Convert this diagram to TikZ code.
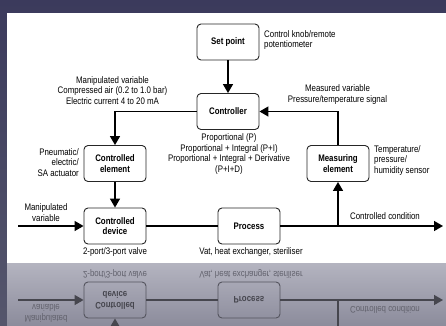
\documentclass[tikz,border=0pt]{standalone}
\usepackage{fontspec}
\setmainfont[FakeStretch=0.83]{Liberation Sans}
\usetikzlibrary{arrows.meta}
\definecolor{bgtop}{HTML}{3B3A5C}
\definecolor{bgbot}{HTML}{55566C}
\definecolor{refltop}{HTML}{B4B4C0}
\definecolor{reflbot}{HTML}{8C8C9C}
\colorlet{dline}{black}
\colorlet{dbox}{black!85}
\colorlet{dtext}{black}
% lower part (drawn in the panel and again as a mirrored reflection)
\newcommand\lowerpart[1]{%
  \node[box] (#1dev) at (115,226) {Controlled\\device};
  \node[box] (#1proc) at (249,226) {Process};
  \coordinate (#1in) at (18,226);
  \coordinate (#1out) at (443,226);
  \coordinate (#1tap) at (338,226);
  \draw[arr] (#1in) -- (#1dev.west);
  \draw[flow] (#1dev.east) -- (#1proc.west);
  \draw[arr] (#1proc.east) -- (#1out);
  \node[lbl] (#1miv) at (46,212.5) {Manipulated\\variable};
  \node[lbl] (#1cc) at (385,216) {Controlled condition};
  \node[lbl] (#1valve) at (115,252) {2-port/3-port valve};
  \node[lbl] (#1vat) at (251,252) {Vat, heat exchanger, steriliser};
}
\begin{document}
\begin{tikzpicture}[x=1pt,y=-1pt,
  box/.style={draw=dbox, line width=0.9pt, rounded corners=4pt,
    minimum width=62pt, minimum height=36pt, inner sep=0pt, align=center,
    text=dline, font=\fontsize{9.5}{10.8}\selectfont\bfseries},
  lbl/.style={inner sep=0pt, align=center, text=dtext,
    font=\fontsize{9.5}{10.8}\selectfont},
  flow/.style={draw=dline, line width=1.5pt},
  arr/.style={flow, -{Triangle[length=9pt,width=10pt]}},
]
\useasboundingbox (0,0) rectangle (446,325);
\shade[top color=bgtop, bottom color=bgbot] (0,0) rectangle (446,325);
\fill[white] (7,13) rectangle (446,263);
\shade[top color=refltop, bottom color=reflbot] (7,263) rectangle (446,325);
% reflection
\begin{scope}
  \clip (7,263) rectangle (446,325);
  \begin{scope}[yshift=-526pt, yscale=-1, transform shape]
    \colorlet{dline}{black!50!reflbot}
    \colorlet{dbox}{black!40!reflbot}
    \colorlet{dtext}{black!30!reflbot}
    \lowerpart{r}
    \coordinate (rcelb) at (115,190);
    \coordinate (rmelb) at (338,190);
    \draw[arr] (rcelb) -- (rdev.north);
    \draw[flow] (rtap) -- (rmelb);
  \end{scope}
\end{scope}
% main diagram
\node[box] (sp) at (228,42) {Set point};
\node[box] (ctl) at (228,111.5) {Controller};
\node[box] (cel) at (115,163.5) {Controlled\\element};
\node[box] (mel) at (338,163.5) {Measuring\\element};
\lowerpart{}
\draw[arr] (sp) -- (ctl);
\draw[arr] (ctl.west) -| (cel.north);
\draw[arr] (mel.north) |- (ctl.east);
\draw[arr] (cel) -- (dev);
\draw[arr] (tap) -- (mel.south);
\node[lbl, anchor=west, align=left] (spl) at (264,40) {Control knob/remote\\potentiometer};
\node[lbl] (mv) at (112.5,90.5) {Manipulated variable\\Compressed air (0.2 to 1.0 bar)\\Electric current 4 to 20 mA};
\node[lbl] (mvr) at (337.5,94.5) {Measured variable\\Pressure/temperature signal};
\node[lbl] (pid) at (229,154) {Proportional (P)\\Proportional + Integral (P+I)\\Proportional + Integral + Derivative\\(P+I+D)};
\node[lbl, anchor=east, align=right] (act) at (79,162.5) {Pneumatic/\\electric/\\SA actuator};
\node[lbl, anchor=west, align=left] (sens) at (374,160.5) {Temperature/\\pressure/\\humidity sensor};
\end{tikzpicture}
\end{document}
